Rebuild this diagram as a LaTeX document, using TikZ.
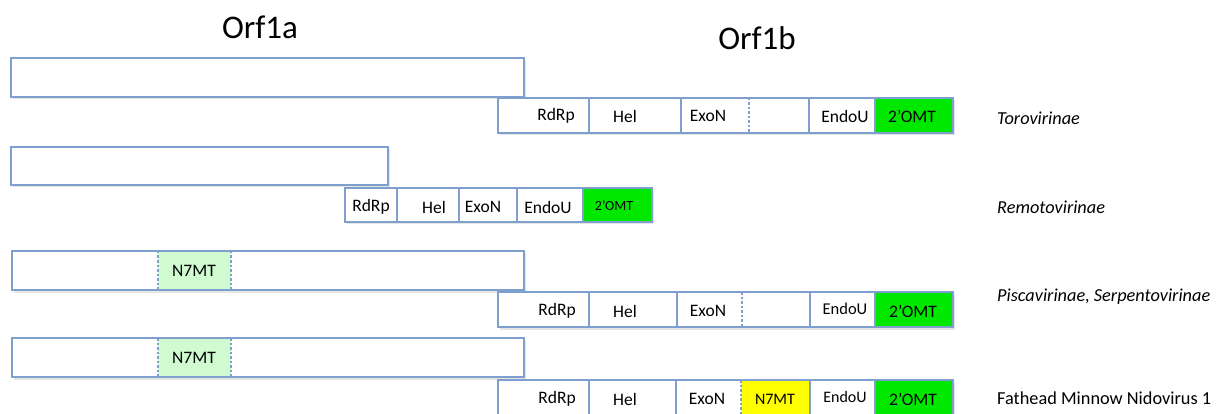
\documentclass[tikz,border=0pt]{standalone}
\usepackage{fontspec}
\setmainfont{Carlito}
\definecolor{bl}{RGB}{127,160,206}
\definecolor{lime}{RGB}{0,232,0}
\definecolor{pale}{RGB}{208,250,208}
\definecolor{yel}{RGB}{255,255,0}
\newcommand\gbox[5]{% name x1 y1 x2 y2
  \fill[black!10] (#2+2,#3+2) rectangle (#4+2,#5+2.5);
  \node[boxnode, anchor=north west, minimum width={#4-#2}, minimum height={#5-#3}] (#1) at (#2,#3) {};}
\newcommand\cellfill[5]{\fill[#1] (#2,#3) rectangle (#4,#5);}
\newcommand\dv[3]{\draw[divline] (#1,#2) -- (#1,#3);}
\newcommand\dd[3]{\draw[divline, dash pattern=on 2.5pt off 2pt] (#1,#2) -- (#1,#3);}
\begin{document}
\begin{tikzpicture}[x=1pt,y=-1pt,
  boxnode/.style={draw=bl, fill=white, line width=1.2pt, inner sep=0pt, outer sep=0pt},
  divline/.style={draw=bl, line width=1.2pt},
  outl/.style={draw=bl, line width=1.2pt},
  lbl/.style={font=\fontsize{17.5}{19}\selectfont, inner sep=0pt},
  tag/.style={font=\fontsize{18.3}{20}\selectfont, inner sep=0pt, anchor=west},
  title/.style={font=\fontsize{33}{36}\selectfont, inner sep=0pt}]
\useasboundingbox (0,0) rectangle (1221,414);

% titles
\node[title] (orf1a) at (260,27) {Orf1a};
\node[title] (orf1b) at (757,38) {Orf1b};

% ---------- row 1 ----------
\gbox{r1a}{11}{58}{524}{97}
\gbox{r1b}{498}{98}{953}{133}
\cellfill{lime}{875}{98}{953}{133}
\draw[outl] (498,98) rectangle (953,133);
\dv{589}{98}{133}\dv{681}{98}{133}\dd{749}{98}{133}\dv{809}{98}{133}\dv{875}{98}{133}
\node[lbl] (r1rdrp) at (556,116) {RdRp};
\node[lbl] (r1hel) at (625,116) {Hel};
\node[lbl] (r1exon) at (708,116) {ExoN};
\node[lbl] (r1endo) at (845,116) {EndoU};
\node[lbl] (r1omt) at (912,116) {2’OMT};
\node[tag] (r1tag) at (997,118) {\itshape Torovirinae};

% ---------- row 2 ----------
\gbox{r2a}{11}{147}{388}{185}
\gbox{r2b}{345}{188}{652}{222}
\cellfill{lime}{583}{188}{652}{222}
\draw[outl] (345,188) rectangle (652,222);
\dv{397}{188}{222}\dv{459}{188}{222}\dv{517}{188}{222}\dv{583}{188}{222}
\node[lbl] (r2rdrp) at (371,207) {RdRp};
\node[lbl] (r2hel) at (434,207) {Hel};
\node[lbl] (r2exon) at (483,207) {ExoN};
\node[lbl] (r2endo) at (548,207) {EndoU};
\node[lbl, font=\fontsize{14}{15}\selectfont] (r2omt) at (614,206) {2’OMT};
\node[tag] (r2tag) at (997,207) {\itshape Remotovirinae};

% ---------- row 3 ----------
\gbox{r3a}{12}{251}{524}{290}
\cellfill{pale}{158}{251}{231}{290}
\draw[outl] (12,251) rectangle (524,290);
\dd{158}{251}{290}\dd{231}{251}{290}
\node[lbl] (r3n7) at (194,271) {N7MT};
\gbox{r3b}{498}{292}{953}{327}
\cellfill{lime}{875}{292}{953}{327}
\draw[outl] (498,292) rectangle (953,327);
\dv{589}{292}{327}\dv{677}{292}{327}\dd{742}{292}{327}\dv{810}{292}{327}\dv{875}{292}{327}
\node[lbl] (r3rdrp) at (557,311) {RdRp};
\node[lbl] (r3hel) at (625,311) {Hel};
\node[lbl] (r3exon) at (708,311) {ExoN};
\node[lbl, font=\fontsize{16.5}{18}\selectfont] (r3endo) at (845,309) {EndoU};
\node[lbl] (r3omt) at (913,311) {2’OMT};
\node[tag] (r3tag) at (997,297) {\itshape Piscavirinae, Serpentovirinae};

% ---------- row 4 ----------
\gbox{r4a}{12}{338}{524}{377}
\cellfill{pale}{158}{338}{231}{377}
\draw[outl] (12,338) rectangle (524,377);
\dd{158}{338}{377}\dd{231}{338}{377}
\node[lbl] (r4n7) at (194,358) {N7MT};
\gbox{r4b}{498}{380}{953}{416}
\cellfill{yel}{741}{380}{810}{416}
\cellfill{lime}{875}{380}{953}{416}
\draw[outl] (498,380) rectangle (953,416);
\dv{589}{380}{416}\dv{676}{380}{416}\dd{741}{380}{416}\dv{810}{380}{416}\dv{875}{380}{416}
\node[lbl] (r4rdrp) at (557,399) {RdRp};
\node[lbl] (r4hel) at (625,399) {Hel};
\node[lbl] (r4exon) at (707,399) {ExoN};
\node[lbl, font=\fontsize{16}{17}\selectfont] (r4n7) at (775,399) {N7MT};
\node[lbl, font=\fontsize{16}{17}\selectfont] (r4endo) at (845,397) {EndoU};
\node[lbl] (r4omt) at (913,399) {2’OMT};
\node[tag] (r4tag) at (997,398) {Fathead Minnow Nidovirus 1};
\end{tikzpicture}
\end{document}
